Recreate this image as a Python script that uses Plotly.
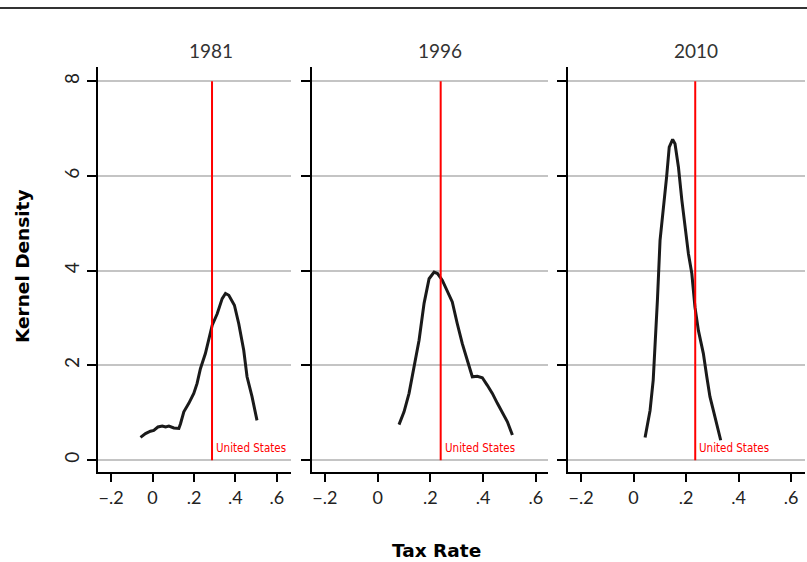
import plotly.graph_objects as go

years = ["1981", "1996", "2010"]
us_rate = [0.287, 0.239, 0.235]

x1981 = [-0.058, -0.034, -0.01, 0.006, 0.026, 0.047, 0.063, 0.079, 0.103, 0.127, 0.135, 0.151, 0.175, 0.199,
         0.215, 0.231, 0.255, 0.271, 0.288, 0.312, 0.336, 0.352, 0.368, 0.395, 0.416, 0.44, 0.456, 0.48, 0.504]
y1981 = [0.48, 0.56, 0.61, 0.63, 0.70, 0.72, 0.70, 0.72, 0.68, 0.67, 0.77, 1.02, 1.20, 1.41,
         1.62, 1.93, 2.25, 2.53, 2.85, 3.09, 3.41, 3.52, 3.48, 3.27, 2.88, 2.32, 1.76, 1.34, 0.84]

x1996 = [0.081, 0.10, 0.119, 0.138, 0.157, 0.176, 0.195, 0.214, 0.227, 0.245, 0.265, 0.283, 0.302, 0.321,
         0.34, 0.359, 0.378, 0.397, 0.416, 0.435, 0.454, 0.473, 0.492, 0.511]
y1996 = [0.75, 1.02, 1.41, 1.97, 2.53, 3.31, 3.83, 3.97, 3.94, 3.80, 3.55, 3.34, 2.88, 2.46,
         2.11, 1.76, 1.77, 1.74, 1.58, 1.41, 1.20, 0.99, 0.81, 0.53]

x2010 = [0.044, 0.063, 0.075, 0.082, 0.091, 0.101, 0.114, 0.126, 0.136, 0.149, 0.158, 0.171, 0.184, 0.196,
         0.209, 0.222, 0.234, 0.247, 0.266, 0.279, 0.291, 0.304, 0.317, 0.332]
y2010 = [0.48, 1.05, 1.69, 2.32, 3.38, 4.64, 5.27, 5.98, 6.61, 6.77, 6.68, 6.19, 5.49, 4.92,
         4.36, 3.94, 3.23, 2.74, 2.25, 1.76, 1.34, 1.05, 0.77, 0.42]

x_ticks = [-0.2, 0, 0.2, 0.4, 0.6]
x_ticktext = ["\u2212.2", "0", ".2", ".4", ".6"]
y_ticks = [0, 2, 4, 6, 8]
y_ticktext = ["0", "2", "4", "6", "8"]

W, H = 807, 562
FONT = "Lato, 'Noto Sans', sans-serif"
BOLD = "'DejaVu Sans', sans-serif"
NARROW = "'Liberation Sans Narrow', 'DejaVu Sans Condensed', sans-serif"

panels_px = [(98, 291), (312, 548), (568, 805)]
xranges = [[-0.263, 0.668], [-0.249, 0.646], [-0.2495, 0.653]]
title_px = [211, 440, 696]
ydom = [1 - 472 / H, 1 - 67 / H]
yrange = [-0.25, 8.3]

fig = go.Figure()
xs = [x1981, x1996, x2010]
ys = [y1981, y1996, y2010]

for i in range(3):
    sfx = "" if i == 0 else str(i + 1)
    fig.add_trace(go.Scatter(x=xs[i], y=ys[i], mode="lines",
                             line=dict(color="#1a1a1a", width=3),
                             xaxis="x" + sfx, yaxis="y" + sfx, showlegend=False,
                             hoverinfo="skip"))
    fig.add_trace(go.Scatter(x=[us_rate[i], us_rate[i]], y=[0, 8], mode="lines",
                             line=dict(color="#ff0000", width=2),
                             xaxis="x" + sfx, yaxis="y" + sfx, showlegend=False,
                             hoverinfo="skip"))
    fig.add_annotation(x=us_rate[i], y=0, xref="x" + sfx, yref="y" + sfx,
                       text="United States", showarrow=False, xanchor="left", yanchor="bottom",
                       xshift=2, yshift=3,
                       font=dict(family=NARROW, size=11.5, color="#ff0000"))
    l, r = panels_px[i]
    fig.layout["xaxis" + sfx] = dict(
        domain=[l / W, r / W], range=xranges[i], anchor="y" + sfx,
        tickvals=x_ticks, ticktext=x_ticktext, ticks="outside", ticklen=8, tickwidth=2,
        tickcolor="black", showline=True, linecolor="black", linewidth=2,
        showgrid=False, zeroline=False, tickfont=dict(family=FONT, size=18, color="#222"),
        fixedrange=True)
    fig.layout["yaxis" + sfx] = dict(
        domain=ydom, range=yrange, anchor="x" + sfx,
        tickvals=y_ticks, ticktext=y_ticktext, ticks="outside", ticklen=9, tickwidth=2,
        tickcolor="black", showline=True, linecolor="black", linewidth=2,
        showgrid=True, gridcolor="#c4c4c4", gridwidth=1.5, zeroline=False,
        showticklabels=(i == 0), tickangle=-90,
        tickfont=dict(family=FONT, size=19, color="#222"), fixedrange=True)
    fig.add_annotation(x=title_px[i] / W, y=1 - 51 / H, xref="paper", yref="paper",
                       text=years[i], showarrow=False, xanchor="center", yanchor="middle",
                       font=dict(family=FONT, size=19, color="#333"))

fig.add_annotation(x=23 / W, y=1 - 266 / H, xref="paper", yref="paper", text="<b>Kernel Density</b>",
                   showarrow=False, textangle=-90, xanchor="center", yanchor="middle",
                   font=dict(family=BOLD, size=18.5, color="black"))
fig.add_annotation(x=436 / W, y=1 - 550 / H, xref="paper", yref="paper", text="<b>Tax Rate</b>",
                   showarrow=False, xanchor="center", yanchor="middle",
                   font=dict(family=BOLD, size=18.5, color="black"))

fig.add_shape(type="line", xref="paper", yref="paper", x0=0, x1=1, y0=1 - 8 / H, y1=1 - 8 / H,
              line=dict(color="#333333", width=2))

fig.update_layout(width=W, height=H, margin=dict(l=0, r=0, t=0, b=0),
                  paper_bgcolor="white", plot_bgcolor="white")

fig.write_html("out.html", config={"displayModeBar": False},
               post_script="document.body.style.margin='0px';document.body.style.overflow='hidden';")
